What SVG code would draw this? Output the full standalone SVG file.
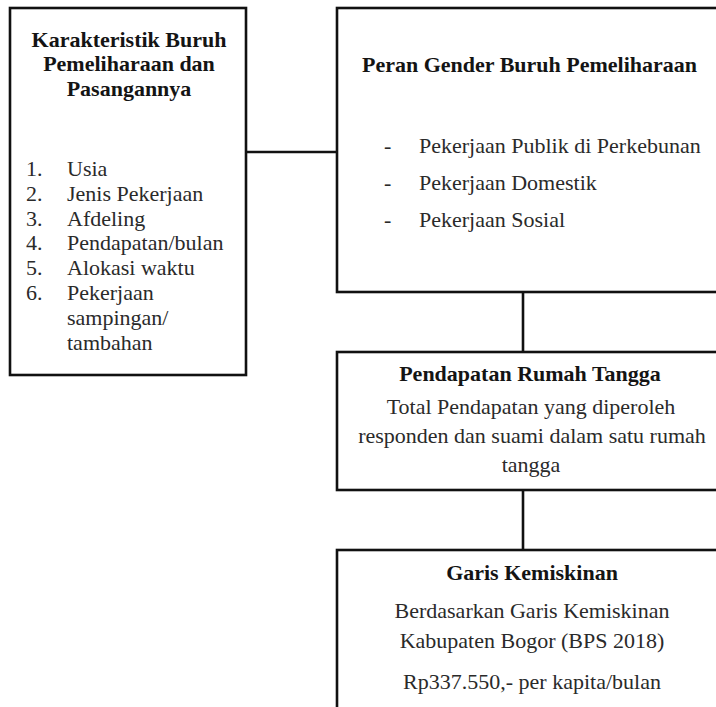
<svg xmlns="http://www.w3.org/2000/svg" width="716" height="707" viewBox="0 0 716 707">
<style>
.box{fill:#fff;stroke:#111;stroke-width:2.6}
.conn{fill:none;stroke:#111;stroke-width:2.6}
text{font-family:"Liberation Serif","Times New Roman",serif;font-size:22px;fill:#2a2a2a}
.t{font-weight:bold;fill:#141414}
.c{text-anchor:middle}
</style>
<rect width="716" height="707" fill="#fff"/>
<g id="connectors">
<line class="conn" x1="246" y1="152" x2="337" y2="152"/>
<line class="conn" x1="523" y1="292" x2="523" y2="352"/>
<line class="conn" x1="523" y1="490" x2="523" y2="550"/>
</g>
<g id="karakteristik">
<rect class="box" x="10" y="8" width="236" height="367"/>
<text class="t c" x="129" y="47">Karakteristik Buruh</text>
<text class="t c" x="129" y="71">Pemeliharaan dan</text>
<text class="t c" x="129" y="96">Pasangannya</text>
<text x="26" y="176">1.</text><text x="67" y="176">Usia</text>
<text x="26" y="201">2.</text><text x="67" y="201">Jenis Pekerjaan</text>
<text x="26" y="226">3.</text><text x="67" y="226">Afdeling</text>
<text x="26" y="250">4.</text><text x="67" y="250">Pendapatan/bulan</text>
<text x="26" y="275">5.</text><text x="67" y="275">Alokasi waktu</text>
<text x="26" y="300">6.</text><text x="67" y="300">Pekerjaan</text>
<text x="67" y="325">sampingan/</text>
<text x="67" y="350">tambahan</text>
</g>
<g id="peran-gender">
<rect class="box" x="337" y="8" width="400" height="284"/>
<text class="t" x="362" y="72">Peran Gender Buruh Pemeliharaan</text>
<text x="384" y="153">-</text><text x="419" y="153">Pekerjaan Publik di Perkebunan</text>
<text x="384" y="190">-</text><text x="419" y="190">Pekerjaan Domestik</text>
<text x="384" y="227">-</text><text x="419" y="227">Pekerjaan Sosial</text>
</g>
<g id="pendapatan">
<rect class="box" x="337" y="352" width="400" height="138"/>
<text class="t c" x="530" y="381">Pendapatan Rumah Tangga</text>
<text class="c" x="531" y="414">Total Pendapatan yang diperoleh</text>
<text class="c" x="532" y="443">responden dan suami dalam satu rumah</text>
<text class="c" x="531" y="472">tangga</text>
</g>
<g id="garis-kemiskinan">
<rect class="box" x="337" y="550" width="400" height="180"/>
<text class="t c" x="532" y="580">Garis Kemiskinan</text>
<text class="c" x="532" y="618">Berdasarkan Garis Kemiskinan</text>
<text class="c" x="532" y="648">Kabupaten Bogor (BPS 2018)</text>
<text class="c" x="532" y="689">Rp337.550,- per kapita/bulan</text>
</g>
</svg>
